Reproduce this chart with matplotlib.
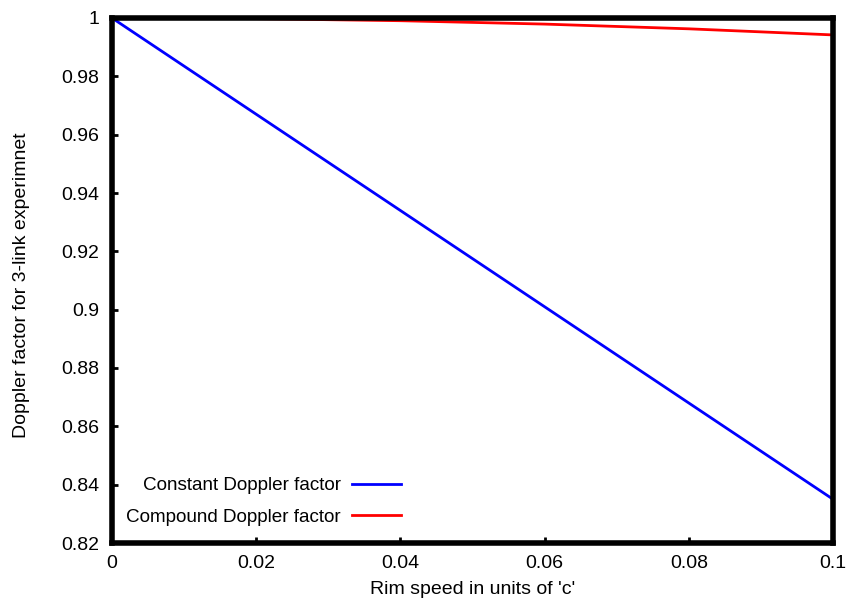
import numpy as np
import matplotlib.pyplot as plt
from matplotlib.lines import Line2D

plt.rcParams['font.family'] = ['Liberation Sans', 'DejaVu Sans']

# rim speed (units of c) and Doppler factors
speed = [0.0, 0.02, 0.04, 0.06, 0.08, 0.1]
constant_factor = [1.0, 0.967, 0.934, 0.901, 0.868, 0.835]
compound_factor = [1.0, 0.99977, 0.99907, 0.99791, 0.99629, 0.9942]

xticks = [0, 0.02, 0.04, 0.06, 0.08, 0.1]
yticks = [0.82, 0.84, 0.86, 0.88, 0.9, 0.92, 0.94, 0.96, 0.98, 1]

W, H = 848, 601
fs = 14.0

fig = plt.figure(figsize=(W / 100, H / 100), dpi=100)
ax = fig.add_axes([112 / W, 1 - 543 / H, 721 / W, 525 / H])

ax.plot(speed, constant_factor, color='#0000ff', lw=2)
ax.plot(speed, compound_factor, color='#ff0000', lw=2)

ax.set_xlim(0, 0.1)
ax.set_ylim(0.82, 1.0)
ax.set_xticks(xticks)
ax.set_xticklabels(['%g' % t for t in xticks])
ax.set_yticks(yticks)
ax.set_yticklabels(['%g' % t for t in yticks])
ax.tick_params(direction='in', length=4, width=2, labelsize=fs, pad=9,
               top=False, right=False)
for s in ax.spines.values():
    s.set_linewidth(4)

fig.text(473 / W, 1 - 590 / H, "Rim speed in units of 'c'", fontsize=fs,
         ha='center', va='center')
fig.text(22 / W, 1 - 285 / H, "Doppler factor for 3-link experimnet", fontsize=fs,
         ha='center', va='center', rotation=90)

# gnuplot-style key: text right aligned, sample line to the right
handles = [Line2D([], [], color='#0000ff', lw=2), Line2D([], [], color='#ff0000', lw=2)]
leg = ax.legend(handles, ['Constant Doppler factor', 'Compound Doppler factor'],
                loc='upper right', bbox_to_anchor=(401 / W, 1 - 477 / H),
                bbox_transform=fig.transFigure, frameon=False,
                fontsize=13.6, markerfirst=False, handlelength=2.6,
                labelspacing=0.75, handletextpad=0.6, borderpad=0, borderaxespad=0)
for t in leg.get_texts():
    t.set_ha('right')
leg._legend_box.align = 'right'

fig.savefig('out.png', dpi=100)
